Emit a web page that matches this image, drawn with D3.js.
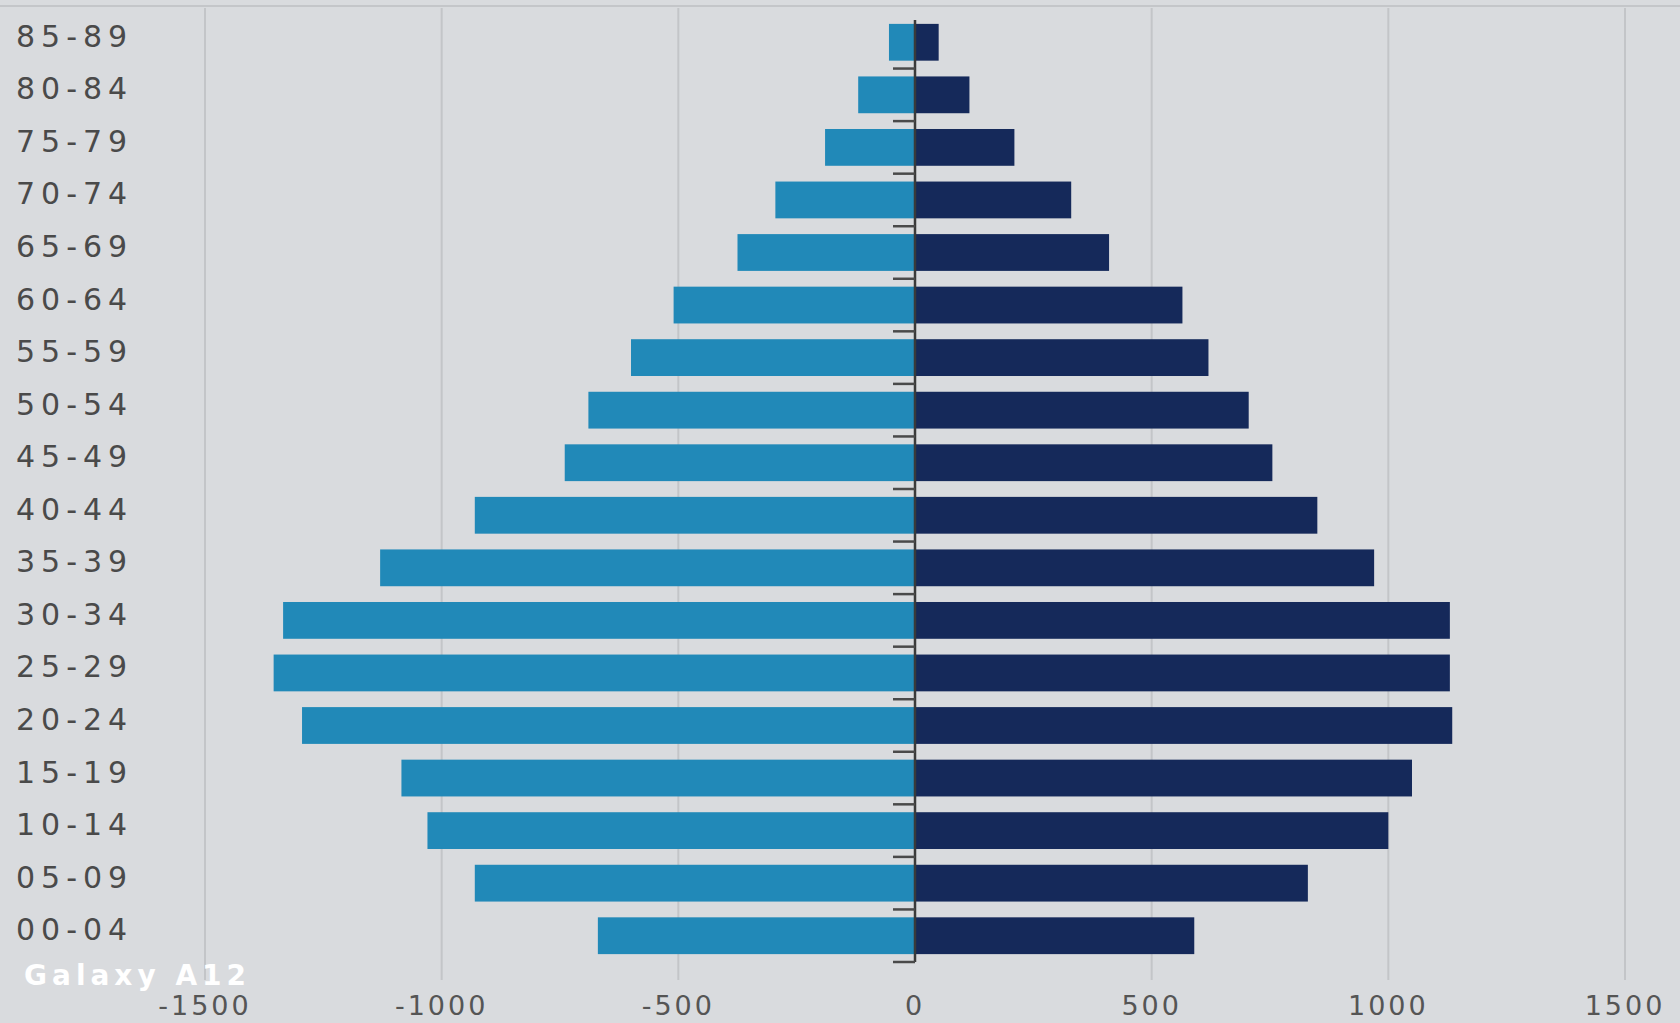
<!DOCTYPE html>
<html>
<head>
<meta charset="utf-8">
<script src="https://cdn.jsdelivr.net/npm/d3@7"></script>
<style>
  html, body { margin: 0; padding: 0; background: #d9dbde; }
  svg { display: block; }
</style>
</head>
<body>
<svg id="chart" width="1680" height="1023"></svg>
<script>
// ---- Data ----
const ageGroups = ["85-89","80-84","75-79","70-74","65-69","60-64","55-59","50-54","45-49",
                   "40-44","35-39","30-34","25-29","20-24","15-19","10-14","05-09","00-04"];
const leftValues  = [-55, -120, -190, -295, -375, -510, -600, -690, -740,
                     -930, -1130, -1335, -1355, -1295, -1085, -1030, -930, -670];
const rightValues = [50, 115, 210, 330, 410, 565, 620, 705, 755,
                     850, 970, 1130, 1130, 1135, 1050, 1000, 830, 590];
const xTicks = [-1500, -1000, -500, 0, 500, 1000, 1500];
const watermark = "Galaxy A12";

// ---- Layout ----
const svg = d3.select("#chart");
const W = 1680, H = 1023;
const plot = { left: 205, right: 1625, top: 16, bottom: 962 };

const x = d3.scaleLinear().domain([-1500, 1500]).range([plot.left, plot.right]);
const y = d3.scaleBand().domain(ageGroups).range([plot.top, plot.bottom]).paddingInner(0.3).paddingOuter(0.15);

// top border line
svg.append("line")
  .attr("x1", 0).attr("x2", W).attr("y1", 6).attr("y2", 6)
  .attr("stroke", "#c4c6c9").attr("stroke-width", 2);

// vertical gridlines
svg.append("g").selectAll("line")
  .data(xTicks.filter(d => d !== 0))
  .join("line")
  .attr("x1", d => x(d)).attr("x2", d => x(d))
  .attr("y1", 8).attr("y2", plot.bottom + 18)
  .attr("stroke", "#c3c5c8").attr("stroke-width", 2);

// bars
const rows = ageGroups.map((g, i) => ({ g, l: leftValues[i], r: rightValues[i] }));
svg.append("g").selectAll("rect")
  .data(rows).join("rect")
  .attr("x", d => x(d.l)).attr("width", d => x(0) - x(d.l))
  .attr("y", d => y(d.g)).attr("height", y.bandwidth())
  .attr("fill", "#2189b8");
svg.append("g").selectAll("rect")
  .data(rows).join("rect")
  .attr("x", x(0)).attr("width", d => x(d.r) - x(0))
  .attr("y", d => y(d.g)).attr("height", y.bandwidth())
  .attr("fill", "#15295a");

// category axis at zero, ticks between categories
const step = y.step();
const boundaries = ageGroups.slice(1).map(g => y(g) - (step - y.bandwidth()) / 2);
boundaries.push(y(ageGroups[ageGroups.length - 1]) + y.bandwidth() + (step - y.bandwidth()) / 2);
const axisG = svg.append("g");
axisG.append("line")
  .attr("x1", x(0)).attr("x2", x(0))
  .attr("y1", y(ageGroups[0]) - 4).attr("y2", boundaries[boundaries.length - 1])
  .attr("stroke", "#3a3a3a").attr("stroke-width", 2.5);
axisG.selectAll("line.tk").data(boundaries).join("line")
  .attr("class", "tk")
  .attr("x1", x(0) - 22).attr("x2", x(0))
  .attr("y1", d => d).attr("y2", d => d)
  .attr("stroke", "#4a4a4a").attr("stroke-width", 2.5);

// category labels
svg.append("g").selectAll("text")
  .data(ageGroups).join("text")
  .attr("x", 16)
  .attr("y", d => y(d) + y.bandwidth() / 2 - 6)
  .attr("dominant-baseline", "central")
  .attr("font-family", "DejaVu Sans, sans-serif")
  .attr("font-size", 30)
  .attr("letter-spacing", 6)
  .attr("fill", "#4a4a4a")
  .text(d => d);

// x tick labels
svg.append("g").selectAll("text")
  .data(xTicks).join("text")
  .attr("x", d => x(d))
  .attr("y", 1015)
  .attr("text-anchor", "middle")
  .attr("font-family", "DejaVu Sans, sans-serif")
  .attr("font-size", 27)
  .attr("letter-spacing", 3)
  .attr("fill", "#555")
  .text(d => d);

// camera watermark
svg.append("text")
  .attr("x", 24).attr("y", 985)
  .attr("font-family", "DejaVu Sans, sans-serif")
  .attr("font-weight", "bold")
  .attr("font-size", 28)
  .attr("letter-spacing", 5)
  .attr("fill", "#ffffff")
  .text(watermark);
</script>
</body>
</html>
